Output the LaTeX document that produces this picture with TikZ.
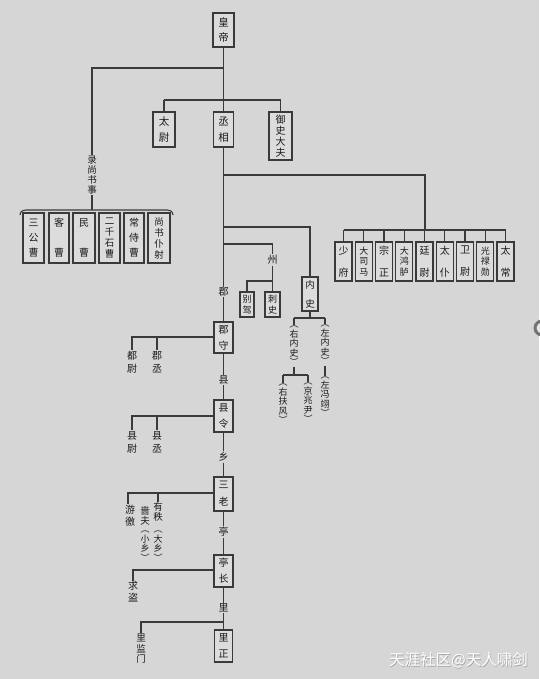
\documentclass[tikz,border=0pt]{standalone}
\usepackage{fontspec}
\usepackage{graphicx}
\newfontfamily\cjk{Noto Sans CJK SC}
\definecolor{bg}{HTML}{D6D6D6}
\definecolor{boxfill}{HTML}{DCDCDC}
\definecolor{lc}{HTML}{3A3A3A}
\definecolor{txt}{HTML}{1A1A1A}
\begin{document}
\begin{tikzpicture}[x=1pt,y=-1pt,
  box/.style={draw=lc, line width=1.2pt, fill=boxfill, inner sep=0pt, align=center, text=txt},
  vt/.style={inner sep=0.8pt, align=center, text=txt, font=\cjk\fontsize{9.5}{10.5}\selectfont},
  par/.style={inner sep=0.8pt, align=center, text=txt, font=\cjk\fontsize{9}{9.5}\selectfont},
  wire/.style={draw=lc, line width=1.1pt},
  f2/.style={font=\cjk\fontsize{10.5}{16}\selectfont},
  fr2/.style={font=\cjk\fontsize{10}{22}\selectfont},
  fr3/.style={font=\cjk\fontsize{9}{10.5}\selectfont},
  rb/.style={box, minimum width=17pt, minimum height=39pt},
  lb/.style={box, minimum height=50pt}]
\useasboundingbox (0,0) rectangle (539,679);
\fill[bg] (0,0) rectangle (539,679);

% ---------- top ----------
\node[box, minimum width=21pt, minimum height=34pt, font=\cjk\fontsize{10.5}{15}\selectfont] (hd) at (223.5,30) {皇\\帝};
\node[box, f2, minimum width=22pt, minimum height=35pt] (tw) at (164,129.5) {太\\尉};
\node[box, f2, minimum width=20pt, minimum height=35pt] (cx) at (223.5,129.5) {丞\\相};
\node[box, minimum width=23pt, minimum height=48pt, font=\cjk\fontsize{10}{11}\selectfont] (ys) at (280.5,136) {御\\史\\大\\夫};

\coordinate (j1) at (223.5,68);
\coordinate (j1l) at (92,68);
\coordinate (j2l) at (164,100);
\coordinate (j2r) at (280.5,100);

% ---------- left branch ----------
\node[vt, font=\cjk\fontsize{9.5}{10}\selectfont] (lsh) at (92,175) {录\\尚\\书\\事};
\coordinate (br) at (92,210);
\coordinate (bl) at (20,215);
\coordinate (brr) at (173,215);

\node[lb, minimum width=21pt, font=\cjk\fontsize{10}{15}\selectfont] (l1) at (33.5,238) {三\\公\\曹};
\node[lb, minimum width=20pt, font=\cjk\fontsize{10}{30}\selectfont] (l2) at (59,238) {客\\曹};
\node[lb, minimum width=22pt, font=\cjk\fontsize{10}{30}\selectfont] (l3) at (84,238) {民\\曹};
\node[lb, minimum width=21pt, font=\cjk\fontsize{9.5}{11}\selectfont] (l4) at (109.5,238) {二\\千\\石\\曹};
\node[lb, minimum width=20pt, font=\cjk\fontsize{10}{15}\selectfont] (l5) at (134,238) {常\\侍\\曹};
\node[lb, minimum width=22pt, font=\cjk\fontsize{9.5}{11}\selectfont] (l6) at (159,238) {尚\\书\\仆\\射};

% ---------- right branch ----------
\coordinate (r0) at (223.5,175);
\coordinate (r1) at (425,175);
\coordinate (r2) at (425,230);
\coordinate (rbL) at (343.5,230);
\coordinate (rbR) at (505.5,230);
\node[rb, fr2] (q1) at (343.5,261.5) {少\\府};
\node[rb, fr3] (q2) at (363.75,261.5) {大\\司\\马};
\node[rb, fr2] (q3) at (384,261.5) {宗\\正};
\node[rb, fr3] (q4) at (404.25,261.5) {大\\鸿\\胪};
\node[rb, fr2] (q5) at (424.5,261.5) {廷\\尉};
\node[rb, fr2] (q6) at (444.75,261.5) {太\\仆};
\node[rb, fr2] (q7) at (465,261.5) {卫\\尉};
\node[rb, fr3] (q8) at (485.25,261.5) {光\\禄\\勋};
\node[rb, fr2] (q9) at (505.5,261.5) {太\\常};

% ---------- middle (州, 内史) ----------
\coordinate (m0) at (223.5,227);
\coordinate (m1) at (310,227);
\node[box, minimum width=16pt, minimum height=34pt, font=\cjk\fontsize{9.5}{19}\selectfont] (ns) at (310,294) {内\\史};
\coordinate (z0) at (223.5,244);
\coordinate (z1) at (272.5,244);
\node[vt, font=\cjk\fontsize{10}{10}\selectfont] (zh) at (272.5,260) {州};
\coordinate (z2) at (272.5,281);
\coordinate (z3) at (247,281);
\node[box, minimum width=14pt, minimum height=25pt, font=\cjk\fontsize{9}{11}\selectfont] (bj) at (247,304.5) {别\\驾};
\node[box, minimum width=15pt, minimum height=25pt, font=\cjk\fontsize{9}{11}\selectfont] (cs) at (272.5,304.5) {刺\\史};

\coordinate (n1) at (310,318);
\coordinate (n1l) at (294,318);
\coordinate (n1r) at (325,318);
\node[par] (yns) at (294,346) {︵\\右\\内\\史\\︶};
\node[par] (zns) at (325,345) {︵\\左\\内\\史\\︶};
\coordinate (n2) at (294,375);
\coordinate (n2l) at (283,375);
\coordinate (n2r) at (308,375);
\node[par] (yfh) at (283,404) {︵\\右\\扶\\风\\︶};
\node[par] (jzy) at (308,403) {︵\\京\\兆\\尹\\︶};
\node[par] (zpy) at (325,397) {︵\\左\\冯\\翊\\︶};

% ---------- trunk: 郡 / 县 / 乡 / 亭 / 里 ----------
\node[vt, font=\cjk\fontsize{10}{10}\selectfont] (jun) at (223.5,292) {郡};
\node[box, minimum width=19pt, minimum height=31pt, font=\cjk\fontsize{10}{16}\selectfont] (js) at (223.5,337.5) {郡\\守};
\node[vt, font=\cjk\fontsize{10}{10}\selectfont] (xian) at (223.5,380) {县};
\node[box, minimum width=19pt, minimum height=32pt, font=\cjk\fontsize{10}{16}\selectfont] (xl) at (223.5,416) {县\\令};
\node[vt, font=\cjk\fontsize{10}{10}\selectfont] (xiang) at (223.5,457) {乡};
\node[box, minimum width=19pt, minimum height=34pt, font=\cjk\fontsize{10}{17}\selectfont] (sl) at (223.5,494) {三\\老};
\node[vt, font=\cjk\fontsize{10}{10}\selectfont] (ting) at (223.5,532) {亭};
\node[box, minimum width=19pt, minimum height=32pt, font=\cjk\fontsize{10}{16}\selectfont] (tz) at (223.5,571) {亭\\长};
\node[vt, font=\cjk\fontsize{10}{10}\selectfont] (li) at (223.5,608) {里};
\node[box, minimum width=18pt, minimum height=32pt, font=\cjk\fontsize{10}{16}\selectfont] (lz) at (223.5,646) {里\\正};

% side texts
\coordinate (a0) at (132,337);
\coordinate (a1) at (157,337);
\node[vt, font=\cjk\fontsize{10}{13}\selectfont] (dw) at (132,362) {都\\尉};
\node[vt, font=\cjk\fontsize{10}{13}\selectfont] (jc) at (157,362) {郡\\丞};
\coordinate (b0) at (132,416);
\coordinate (b1) at (157,416);
\node[vt, font=\cjk\fontsize{10}{13}\selectfont] (xw) at (132,442) {县\\尉};
\node[vt, font=\cjk\fontsize{10}{13}\selectfont] (xc) at (157,442) {县\\丞};
\coordinate (c0) at (128,493);
\coordinate (c1) at (158,493);
\node[vt, font=\cjk\fontsize{10}{12}\selectfont] (yj) at (130,516) {游\\徼};
\node[vt, font=\cjk\fontsize{9.5}{10}\selectfont] (yz) at (158,512) {有\\秩};
\node[vt, font=\cjk\fontsize{9.5}{9.5}\selectfont] (sf) at (145,516) {啬\\夫};
\node[par] (dx) at (158,546) {︵\\大\\乡\\︶};
\node[par] (xx) at (145,546) {︵\\小\\乡\\︶};
\coordinate (d0) at (133,570);
\node[vt, font=\cjk\fontsize{10}{12}\selectfont] (qd) at (133,592) {求\\盗};
\coordinate (e0) at (223.5,622);
\coordinate (e1) at (141,622);
\node[vt, font=\cjk\fontsize{9.5}{10.5}\selectfont] (ljm) at (141,649) {里\\监\\门};

% ---------- connectors ----------
\draw[wire] (hd) -- (cx);
\draw[wire] (j1) -- (j1l) -- (lsh);
\draw[wire] (j2l) -- (j2r);
\draw[wire] (j2l) -- (tw);
\draw[wire] (j2r) -- (ys);
\draw[wire] (lsh) -- (br);
\draw[wire] (bl) .. controls (21,211) .. (26,210) -- (167,210) .. controls (172,211) .. (brr);

\draw[wire] (r0) -- (r1) -- (r2);
\draw[wire] (rbL) -- (rbR);
\foreach \i in {1,...,9} \draw[wire] (q\i.north |- rbL) -- (q\i.north);

\draw[wire] (m0) -- (m1) -- (ns);
\draw[wire] (z0) -- (z1) -- (zh);
\draw[wire] (zh) -- (z2) -- (z3) -- (bj);
\draw[wire] (z2) -- (cs);
\draw[wire] (ns) -- (n1);
\draw[wire] (n1l) -- (n1r);
\draw[wire] (n1l) -- (yns);
\draw[wire] (n1r) -- (zns);
\draw[wire] (yns) -- (n2);
\draw[wire] (n2l) -- (n2r);
\draw[wire] (n2l) -- (yfh);
\draw[wire] (n2r) -- (jzy);
\draw[wire] (zns) -- (zpy);

\draw[wire] (cx) -- (jun);
\draw[wire] (jun) -- (js);
\draw[wire] (js) -- (xian);
\draw[wire] (xian) -- (xl);
\draw[wire] (xl) -- (xiang);
\draw[wire] (xiang) -- (sl);
\draw[wire] (sl) -- (ting);
\draw[wire] (ting) -- (tz);
\draw[wire] (tz) -- (li);
\draw[wire] (li) -- (lz);

\draw[wire] (js.west |- a0) -- (a0) -- (dw);
\draw[wire] (a1) -- (jc);
\draw[wire] (xl.west |- b0) -- (b0) -- (xw);
\draw[wire] (b1) -- (xc);
\draw[wire] (sl.west |- c0) -- (c0) -- (yj.north -| c0);
\draw[wire] (c1) -- (yz);
\draw[wire] (tz.west |- d0) -- (d0) -- (qd);
\draw[wire] (e0) -- (e1) -- (ljm);

% ---------- watermark & edge icon ----------
\node[font=\cjk\fontsize{15.5}{16}\selectfont, text=black!35, inner sep=0pt] (wms) at (459.3,660.8) {天涯社区@天人啸剑};
\node[font=\cjk\fontsize{15.5}{16}\selectfont, text=white, inner sep=0pt] (wm) at (458.5,660) {天涯社区@天人啸剑};
\fill[black!55] (542,328) circle (8.5);
\fill[bg!60!white] (542,328) circle (5.5);
\end{tikzpicture}
\end{document}
